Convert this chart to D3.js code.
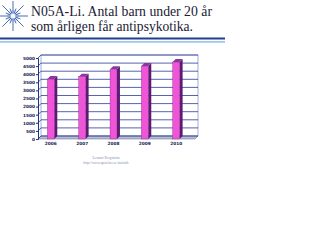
<!DOCTYPE html>
<html>
<head>
<meta charset="utf-8">
<script src="https://cdn.jsdelivr.net/npm/d3@7"></script>
<style>
  body { margin: 0; background: #fff; }
  svg { display: block; }
</style>
</head>
<body>
<div id="chart"></div>
<script>
var width = 320,
	height = 240;

var years = ["2006", "2007", "2008", "2009", "2010"];
var counts = [3700, 3850, 4300, 4500, 4750];
var yTicks = [0, 500, 1000, 1500, 2000, 2500, 3000, 3500, 4000, 4500, 5000];
var titleLines = ["N05A-Li. Antal barn under 20 år", "som årligen får antipsykotika."];
var titleWidths = [181, 162];
var footLines = ["Lennart Bergström", "http://www.apoteket.se/statistik"];

var depth = 3; // 3d offset

var svg = d3.select("#chart").append("svg")
	.attr("width", width)
	.attr("height", height);

// starburst icon
var star = svg.append("g").attr("transform", "translate(13,16)");
star.append("circle").attr("r", 6).attr("fill", "#cfe3f7").attr("opacity", 0.8);
star.selectAll("line")
	.data(d3.range(16))
	.enter().append("line")
	.attr("x1", 0).attr("y1", 0)
	.attr("x2", function(d) { return Math.cos(d / 16 * 2 * Math.PI) * (d % 2 ? 8 : 15); })
	.attr("y2", function(d) { return Math.sin(d / 16 * 2 * Math.PI) * (d % 2 ? 8 : 15); })
	.attr("stroke", "#3a5aa8")
	.attr("stroke-width", 0.9);
star.append("circle").attr("r", 2.5).attr("fill", "#f4f9ff");

// title
svg.selectAll(".title")
	.data(titleLines)
	.enter().append("text")
	.attr("class", "title")
	.attr("x", 31)
	.attr("y", function(d, i) { return 15.5 + i * 15; })
	.attr("textLength", function(d, i) { return titleWidths[i]; })
	.attr("lengthAdjust", "spacingAndGlyphs")
	.style("font-family", "'Liberation Serif', 'Times New Roman', serif")
	.style("font-size", "14.5px")
	.attr("fill", "#1a1a33")
	.text(function(d) { return d; });

svg.append("rect").attr("x", 0).attr("y", 37.5).attr("width", 225).attr("height", 2).attr("fill", "#1d3f8f");
svg.append("rect").attr("x", 0).attr("y", 41).attr("width", 225).attr("height", 1.8).attr("fill", "#a9c6ea");

// chart
var wallLeft = 41, wallRight = 198, wallTop = 55, wallBottom = 136;

var y = d3.scaleLinear()
	.domain([0, 5000])
	.range([wallBottom, wallTop]);

var x = d3.scaleBand()
	.domain(years)
	.range([wallLeft - depth, wallRight - depth - 6])
	.paddingInner(0.78)
	.paddingOuter(0.3);

var chart = svg.append("g");

// back wall
chart.append("rect")
	.attr("x", wallLeft).attr("y", wallTop)
	.attr("width", wallRight - wallLeft).attr("height", wallBottom - wallTop)
	.attr("fill", "#fff").attr("stroke", "#6677bb").attr("stroke-width", 0.6);

// floor
chart.append("path")
	.attr("d", "M" + wallLeft + "," + wallBottom + "L" + wallRight + "," + wallBottom +
		"L" + (wallRight - depth) + "," + (wallBottom + depth) + "L" + (wallLeft - depth) + "," + (wallBottom + depth) + "Z")
	.attr("fill", "#b8bccc").attr("stroke", "#556699").attr("stroke-width", 0.5);

// grid lines
chart.selectAll(".grid")
	.data(yTicks)
	.enter().append("path")
	.attr("class", "grid")
	.attr("d", function(d) {
		return "M" + (wallLeft - depth) + "," + (y(d) + depth) + "L" + wallLeft + "," + y(d) + "L" + wallRight + "," + y(d);
	})
	.attr("fill", "none")
	.attr("stroke", "#2a3c9a")
	.attr("stroke-width", 0.8);

// y axis
var yAxis = chart.append("g")
	.attr("transform", "translate(" + (wallLeft - depth) + "," + depth + ")")
	.call(d3.axisLeft(y).tickValues(yTicks).tickFormat(d3.format("d")).tickSize(2).tickPadding(1))
	.style("font-family", "'DejaVu Sans', sans-serif")
	.style("font-size", "4.3px")
	.style("font-weight", "bold");
yAxis.select(".domain").attr("stroke", "#223377");
yAxis.selectAll("text").attr("fill", "#14224f");
yAxis.selectAll("line").attr("stroke", "#223377");

// bars
var bars = chart.selectAll(".bar")
	.data(years)
	.enter().append("g")
	.attr("class", "bar");

bars.append("path")
	.attr("d", function(d, i) {
		var x0 = x(d) + x.bandwidth(), yt = y(counts[i]) + depth, yb = y(0) + depth;
		return "M" + x0 + "," + yt + "L" + (x0 + depth) + "," + (yt - depth) + "L" + (x0 + depth) + "," + (yb - depth) + "L" + x0 + "," + yb + "Z";
	})
	.attr("fill", "#5c1a73");

bars.append("path")
	.attr("d", function(d, i) {
		var x0 = x(d), x1 = x(d) + x.bandwidth(), yt = y(counts[i]) + depth;
		return "M" + x0 + "," + yt + "L" + (x0 + depth) + "," + (yt - depth) + "L" + (x1 + depth) + "," + (yt - depth) + "L" + x1 + "," + yt + "Z";
	})
	.attr("fill", "#8a3a9a");

bars.append("rect")
	.attr("x", function(d) { return x(d); })
	.attr("y", function(d, i) { return y(counts[i]) + depth; })
	.attr("width", x.bandwidth())
	.attr("height", function(d, i) { return y(0) - y(counts[i]); })
	.attr("fill", "#f055d8")
	.attr("stroke", "#7a2a8a")
	.attr("stroke-width", 0.4);

// x axis labels
chart.selectAll(".xlab")
	.data(years)
	.enter().append("text")
	.attr("class", "xlab")
	.attr("x", function(d) { return x(d) + x.bandwidth() / 2; })
	.attr("y", wallBottom + depth + 5.5)
	.attr("text-anchor", "middle")
	.style("font-family", "'DejaVu Sans', sans-serif")
	.style("font-size", "4.3px")
	.style("font-weight", "bold")
	.attr("fill", "#14224f")
	.text(function(d) { return d; });

// footer
svg.selectAll(".foot")
	.data(footLines)
	.enter().append("text")
	.attr("class", "foot")
	.attr("x", 106)
	.attr("y", function(d, i) { return 159 + i * 5; })
	.attr("text-anchor", "middle")
	.style("font-family", "'Liberation Serif', serif")
	.style("font-size", "3.6px")
	.attr("fill", "#8890b0")
	.text(function(d) { return d; });
</script>
</body>
</html>
